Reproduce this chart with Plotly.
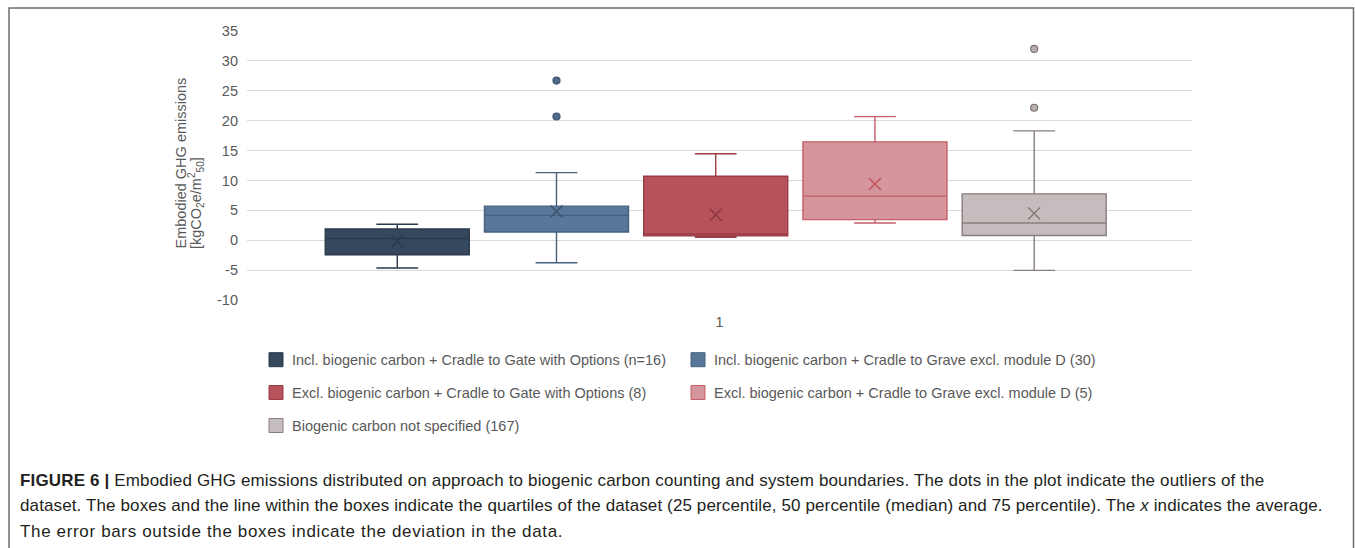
import plotly.graph_objects as go

# ---- data -------------------------------------------------------------
categories = [
    "Incl. biogenic carbon + Cradle to Gate with Options (n=16)",
    "Incl. biogenic carbon + Cradle to Grave excl. module D (30)",
    "Excl. biogenic carbon + Cradle to Gate with Options (8)",
    "Excl. biogenic carbon + Cradle to Grave excl. module D (5)",
    "Biogenic carbon not specified (167)",
]
q1 = [-2.44, 1.38, 0.72, 3.44, 0.78]
median = [0.28, 4.16, 1.05, 7.37, 2.88]
q3 = [1.88, 5.70, 10.70, 16.46, 7.76]
lower_whisker = [-4.65, -3.77, 0.50, 2.88, -5.04]
upper_whisker = [2.66, 11.30, 14.46, 20.67, 18.29]
mean = [-0.17, 4.82, 4.27, 9.42, 4.49]
outliers = [[], [20.7, 26.7], [], [], [22.16, 32.0]]

y_ticks = [-10, -5, 0, 5, 10, 15, 20, 25, 30, 35]
x_tick_label = "1"

# ---- styling ----------------------------------------------------------
fill_colors = ["#35485e", "#587899", "#b5525a", "#d4969c", "#c5bdbd"]
line_colors = ["#2a394b", "#46607d", "#9a3c46", "#c65f6a", "#8a7d7d"]
mean_colors = ["#2a394b", "#3b526d", "#8c363f", "#c4505c", "#7d7070"]
outlier_fill = ["#4e6a8a", "#4e6a8a", "#b5525a", "#d4969c", "#b9b0b0"]
outlier_line = ["#3e5673", "#3e5673", "#9a3c46", "#c65f6a", "#7d7070"]

W, H = 1355, 548
PL, PR, PT, PB = 247, 1192, 31, 300  # plot area in pixels

slot = 0.1685       # spacing between neighbouring boxes (x-axis units)
box_w = 0.1524      # box width (x-axis units)
shift = -0.004

TEXT_FONT = "Liberation Sans, Arial"
GREY_TEXT = "#595959"


def px_x(px):
    return (px - PL) / (PR - PL)


def px_y(py):
    return (PB - py) / (PB - PT)


fig = go.Figure()

for i, name in enumerate(categories):
    pos = (i - 2) * slot + shift
    fig.add_trace(go.Box(
        name=name,
        x=[pos],
        q1=[q1[i]],
        median=[median[i]],
        q3=[q3[i]],
        lowerfence=[lower_whisker[i]],
        upperfence=[upper_whisker[i]],
        boxpoints=False,
        width=box_w,
        whiskerwidth=0.29,
        fillcolor=fill_colors[i],
        line=dict(color=line_colors[i], width=1.4),
        showlegend=False,
        hoverinfo="skip",
    ))
    # mean marker
    fig.add_trace(go.Scatter(
        x=[pos], y=[mean[i]], mode="markers",
        marker=dict(symbol="x-thin-open", size=12, color=mean_colors[i],
                    line=dict(color=mean_colors[i], width=1.4)),
        showlegend=False, hoverinfo="skip",
    ))
    # outliers
    if outliers[i]:
        fig.add_trace(go.Scatter(
            x=[pos] * len(outliers[i]), y=outliers[i], mode="markers",
            marker=dict(symbol="circle", size=7, color=outlier_fill[i],
                        line=dict(color=outlier_line[i], width=1.2)),
            showlegend=False, hoverinfo="skip",
        ))

shapes = []
annotations = []

# outer frame
shapes.append(dict(type="rect", xref="paper", yref="paper",
                   x0=px_x(9), x1=px_x(1353.5), y0=px_y(560), y1=px_y(8),
                   line=dict(color="#6e6e6e", width=1.5), fillcolor="rgba(0,0,0,0)",
                   layer="below"))

# legend (two columns, three rows)
legend_cells = [(269, 359.7), (691, 359.7), (269, 392.5), (691, 392.5), (269, 425.5)]
for i, name in enumerate(categories):
    sx, sy = legend_cells[i]
    shapes.append(dict(type="rect", xref="paper", yref="paper",
                       x0=px_x(sx), x1=px_x(sx + 14), y0=px_y(sy + 7), y1=px_y(sy - 7),
                       fillcolor=fill_colors[i], line=dict(color=line_colors[i], width=1)))
    annotations.append(dict(xref="paper", yref="paper", x=px_x(sx + 20.5), y=px_y(sy),
                            xanchor="left", yanchor="middle", showarrow=False,
                            text=name,
                            font=dict(family=TEXT_FONT, size=14.5, color=GREY_TEXT)))

# y-axis title (two rotated lines)
annotations.append(dict(xref="paper", yref="paper", x=px_x(180), y=px_y(251),
                        xanchor="center", yanchor="bottom", textangle=-90,
                        showarrow=False, text="Embodied GHG emissions",
                        font=dict(family=TEXT_FONT, size=14.5, color=GREY_TEXT)))
annotations.append(dict(xref="paper", yref="paper", x=px_x(196), y=px_y(251),
                        xanchor="center", yanchor="bottom", textangle=-90,
                        showarrow=False,
                        text="[kgCO<sub>2</sub>e/m<sup>2</sup><sub>50</sub>]",
                        font=dict(family=TEXT_FONT, size=14.5, color=GREY_TEXT)))

# caption
caption_lines = [
    "<b>FIGURE 6 |</b> Embodied GHG emissions distributed on approach to biogenic carbon counting "
    "and system boundaries. The dots in the plot indicate the outliers of the",
    "dataset. The boxes and the line within the boxes indicate the quartiles of the dataset "
    "(25 percentile, 50 percentile (median) and 75 percentile). The <i>x</i> indicates the average.",
    "The error bars outside the boxes indicate the deviation in the data.",
]
caption_spacing = ["0.15px", "0.12px", "0.65px"]
for k, line in enumerate(caption_lines):
    annotations.append(dict(xref="paper", yref="paper", x=px_x(18), y=px_y(480 + 25.5 * k),
                            xanchor="left", yanchor="middle", showarrow=False,
                            text=f'<span style="letter-spacing:{caption_spacing[k]}">{line}</span>',
                            font=dict(family=TEXT_FONT, size=17, color="#231f20")))

fig.update_layout(
    width=W, height=H,
    margin=dict(l=PL, r=W - PR, t=PT, b=H - PB, autoexpand=False),
    paper_bgcolor="white", plot_bgcolor="white",
    font=dict(family=TEXT_FONT, color=GREY_TEXT),
    xaxis=dict(range=[-0.5, 0.5], tickvals=[0], ticktext=[x_tick_label],
               showgrid=False, zeroline=False, showline=False,
               tickfont=dict(size=14.5, color=GREY_TEXT), ticklabelstandoff=11),
    yaxis=dict(range=[-10, 35], tickvals=y_ticks, ticktext=[str(v) for v in y_ticks],
               showgrid=True, gridcolor="#d9d9d9", gridwidth=1.2,
               zeroline=False, showline=False,
               tickfont=dict(size=14.5, color=GREY_TEXT), ticklabelstandoff=8),
    shapes=shapes,
    annotations=annotations,
)

fig.write_html("out.html")
